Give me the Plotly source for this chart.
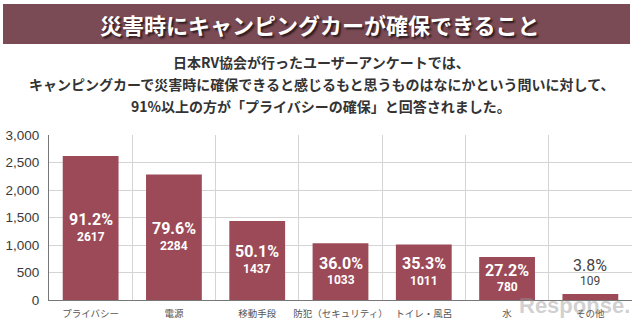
import plotly.graph_objects as go

# Survey answers (Japan RV Association user survey)
categories = ["プライバシー", "電源", "移動手段", "防犯（セキュリティ）", "トイレ・風呂", "水", "その他"]
counts = [2617, 2284, 1437, 1033, 1011, 780, 109]
percents = ["91.2%", "79.6%", "50.1%", "36.0%", "35.3%", "27.2%", "3.8%"]

title_text = "災害時にキャンピングカーが確保できること"
subtitle_lines = [
    "日本RV協会が行ったユーザーアンケートでは、",
    "キャンピングカーで災害時に確保できると感じるもと思うものはなにかという問いに対して、",
    "91%以上の方が「プライバシーの確保」と回答されました。",
]

W, H = 640, 325
ML, MR, MT, MB = 49, 8, 135, 25
PW, PH = W - ML - MR, H - MT - MB

BAR = "#9c4a58"
BANNER = "#7b4b55"
JP = "Noto Sans CJK JP"
NUM = "Roboto, Liberation Sans, sans-serif"


def px(x):
    return (x - ML) / PW


def py(y):
    return (H - MB - y) / PH


fig = go.Figure(
    go.Bar(
        x=categories,
        y=counts,
        width=0.67,
        marker=dict(color=BAR, line=dict(width=0)),
        hoverinfo="skip",
    )
)

annotations = []
for cat, val, pct in zip(categories, counts, percents):
    inside = val > 300
    if inside:
        ymid = val / 2
        annotations.append(dict(x=cat, y=ymid, xref="x", yref="y", text=pct, showarrow=False,
                                yshift=8.5, font=dict(family=NUM, size=16, color="white", weight="bold")))
        annotations.append(dict(x=cat, y=ymid, xref="x", yref="y", text=str(val), showarrow=False,
                                yshift=-8.5, font=dict(family=NUM, size=12, color="white", weight="bold")))
    else:
        annotations.append(dict(x=cat, y=val, xref="x", yref="y", text=pct, showarrow=False,
                                yshift=29, font=dict(family=NUM, size=16, color="#444444")))
        annotations.append(dict(x=cat, y=val, xref="x", yref="y", text=str(val), showarrow=False,
                                yshift=13, font=dict(family=NUM, size=12, color="#444444")))

# Header banner title
annotations.append(dict(x=px(320), y=py(24), xref="paper", yref="paper", text=title_text, showarrow=False,
                        xanchor="center", yanchor="middle",
                        font=dict(family=JP, size=22, color="white", weight="bold",
                                  shadow="2px 2px 2px #2b1a1e")))

# Explanatory text
for i, line in enumerate(subtitle_lines):
    annotations.append(dict(x=px(321), y=py(62 + 22 * i), xref="paper", yref="paper", text=line,
                            showarrow=False, xanchor="center", yanchor="middle",
                            font=dict(family=JP, size=14, color="#333333", weight="bold")))

# Source watermark
annotations.append(dict(x=px(574), y=py(305), xref="paper", yref="paper", text="Response.",
                        showarrow=False, xanchor="center", yanchor="middle",
                        font=dict(family="Liberation Sans", size=22, color="rgba(150,150,150,0.45)",
                                  weight="bold")))

fig.update_layout(
    width=W,
    height=H,
    margin=dict(l=ML, r=MR, t=MT, b=MB, pad=0, autoexpand=False),
    paper_bgcolor="white",
    plot_bgcolor="white",
    showlegend=False,
    bargap=0.33,
    annotations=annotations,
    shapes=[dict(type="rect", xref="paper", yref="paper", x0=px(3), x1=px(630), y0=py(44), y1=py(4),
                 fillcolor=BANNER, line=dict(width=0), layer="below")],
)

fig.update_xaxes(
    type="category",
    tickson="boundaries",
    showgrid=True,
    gridcolor="#d4d4d4",
    gridwidth=1,
    ticks="",
    showline=True,
    linecolor="#777777",
    linewidth=1,
    mirror=False,
    tickangle=0,
    automargin=False,
    ticklabelstandoff=5,
    tickfont=dict(family=JP, size=9.5, color="#555555"),
)

fig.update_yaxes(
    range=[0, 3000],
    dtick=500,
    tickformat=",",
    showgrid=True,
    gridcolor="#d4d4d4",
    gridwidth=1,
    zeroline=False,
    showline=True,
    linecolor="#777777",
    linewidth=1,
    ticks="",
    automargin=False,
    ticklabelstandoff=6,
    tickfont=dict(family="Liberation Sans", size=13.5, color="#3a3a3a"),
)

fig.write_html("out.html")
